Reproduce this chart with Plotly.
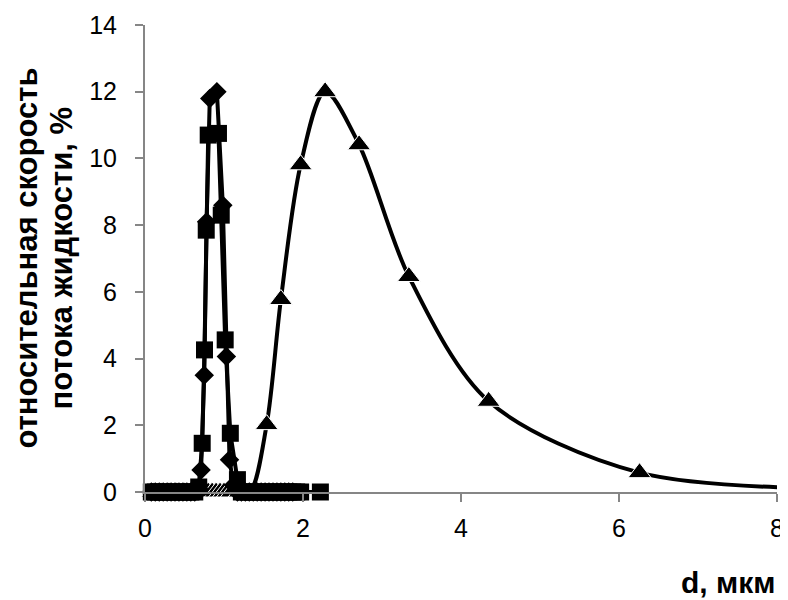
import plotly.graph_objects as go

# Squares series
sq_x = [0.08, 0.13, 0.18, 0.23, 0.28, 0.33, 0.38, 0.43, 0.48, 0.53, 0.58, 0.63,
        0.68, 0.724, 0.753, 0.775, 0.80, 0.93, 0.965, 1.015, 1.08, 1.17,
        1.22, 1.27, 1.32, 1.37, 1.42, 1.47, 1.52, 1.57, 1.62, 1.67, 1.72, 1.77,
        1.82, 1.87, 1.92, 1.97, 2.22]
sq_y = [0, 0, 0, 0, 0, 0, 0, 0, 0, 0, 0, 0,
        0.15, 1.46, 4.26, 7.85, 10.7, 10.75, 8.3, 4.56, 1.76, 0.37,
        0, 0, 0, 0, 0, 0, 0, 0, 0, 0, 0, 0,
        0, 0, 0, 0, 0]

# Diamonds series
dm_x = [0.08, 0.13, 0.18, 0.23, 0.28, 0.33, 0.38, 0.43, 0.48, 0.53, 0.58, 0.63,
        0.68, 0.71, 0.75, 0.78, 0.82, 0.91, 0.985, 1.03, 1.07, 1.12,
        1.17, 1.22, 1.27, 1.32, 1.37, 1.42, 1.47, 1.52, 1.57, 1.62, 1.67,
        1.72, 1.77, 1.82, 1.87]
dm_y = [0, 0, 0, 0, 0, 0, 0, 0, 0, 0, 0, 0,
        0.1, 0.66, 3.5, 8.1, 11.8, 12.0, 8.6, 4.06, 0.97, 0.2,
        0, 0, 0, 0, 0, 0, 0, 0, 0, 0, 0,
        0, 0, 0, 0]

# Triangles series (smoothed line); last point lies beyond the axis range
tr_x = [0.1, 0.2, 0.3, 0.4, 0.5, 0.6, 0.7, 0.8, 0.85, 0.9, 0.95, 1.0, 1.05,
        1.1, 1.2, 1.33, 1.54, 1.72, 1.97, 2.28, 2.71, 3.34, 4.35, 6.26, 9.0]
tr_y = [0, 0, 0, 0, 0, 0, 0, 0, 0, 0, 0, 0, 0,
        0, 0, 0, 2.02, 5.77, 9.81, 12.0, 10.41, 6.46, 2.72, 0.58, 0.10]

x_ticks = [0, 2, 4, 6, 8]
y_ticks = [0, 2, 4, 6, 8, 10, 12, 14]

y_title_lines = ["относительная скорость", "потока жидкости, %"]
x_title = "d, мкм"

X_MAX = 8
FONT = "Liberation Sans, Arial, sans-serif"

# markers only for points inside the axis range (Excel clips the rest)
tr_marker_size = [20 if xv <= X_MAX else 0 for xv in tr_x]

fig = go.Figure()
fig.add_trace(go.Scatter(
    x=tr_x, y=tr_y, mode="lines+markers",
    line=dict(color="black", width=4, shape="spline", smoothing=0.9),
    marker=dict(symbol="triangle-up", size=tr_marker_size, color="black", opacity=1),
    showlegend=False, cliponaxis=False))
fig.add_trace(go.Scatter(
    x=dm_x, y=dm_y, mode="lines+markers",
    line=dict(color="black", width=4),
    marker=dict(symbol="diamond", size=15, color="black", opacity=1),
    showlegend=False, cliponaxis=False))
fig.add_trace(go.Scatter(
    x=sq_x, y=sq_y, mode="lines+markers",
    line=dict(color="black", width=4),
    marker=dict(symbol="square", size=17, color="black", opacity=1),
    showlegend=False, cliponaxis=False))

axis_common = dict(
    showgrid=False, zeroline=False, showline=True, automargin=False,
    linecolor="#868686", linewidth=2,
    ticks="outside", ticklen=8, tickwidth=2, tickcolor="#868686",
    tickfont=dict(family=FONT, size=25, color="black"),
)

L, R, T, B = 137, 19, 17, 116
W, H = 788, 600
plot_w = W - L - R

def px_to_paper_x(px):
    return (px - L) / plot_w

fig.update_layout(
    width=W, height=H,
    margin=dict(l=L, r=R, t=T, b=B, autoexpand=False),
    paper_bgcolor="white", plot_bgcolor="white",
    xaxis=dict(range=[0, X_MAX], tickvals=x_ticks, ticktext=[str(v) for v in x_ticks],
               ticklabelstandoff=5, **axis_common),
    yaxis=dict(range=[0, 14], tickvals=y_ticks, ticktext=[str(v) for v in y_ticks],
               ticklabelstandoff=13, **axis_common),
    annotations=[
        dict(text="<b>" + y_title_lines[0] + "</b>",
             xref="paper", yref="paper", x=px_to_paper_x(18), y=0.5,
             xanchor="center", yanchor="middle", textangle=-90, showarrow=False,
             font=dict(family=FONT, size=31, color="black")),
        dict(text="<b>" + y_title_lines[1] + "</b>",
             xref="paper", yref="paper", x=px_to_paper_x(53), y=0.5,
             xanchor="center", yanchor="middle", textangle=-90, showarrow=False,
             font=dict(family=FONT, size=31, color="black")),
        dict(text="<b>" + x_title + "</b>", xref="paper", yref="paper",
             x=px_to_paper_x(769), y=-0.193, xanchor="right", yanchor="middle",
             showarrow=False,
             font=dict(family=FONT, size=30, color="black")),
    ],
)

fig.write_html("out.html")
